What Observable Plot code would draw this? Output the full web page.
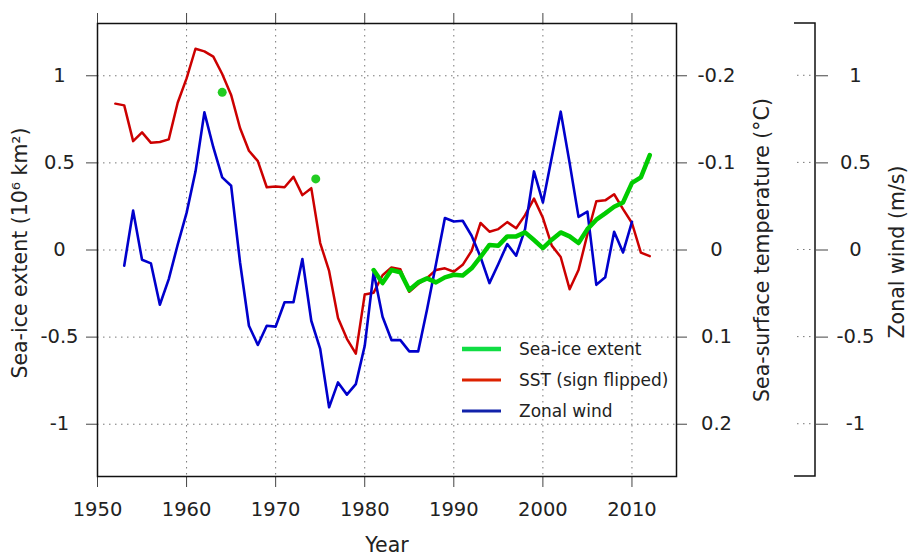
<!DOCTYPE html>
<html><head><meta charset="utf-8">
<script src="https://cdn.jsdelivr.net/npm/d3@7"></script>
<script src="https://cdn.jsdelivr.net/npm/@observablehq/plot@0.6"></script>
<style>
body{margin:0;background:#fff;font-family:"DejaVu Sans",sans-serif;}
#wrap{position:relative;width:911px;height:556px;}
.legend{position:absolute;left:462px;top:333.5px;font-size:17px;color:#222;font-family:"DejaVu Sans",sans-serif;}
.row{display:flex;align-items:center;height:31px;}
.row svg{margin-right:18px;}
</style></head><body><div id="wrap"></div>
<script>
// ---- data ----
const sstYears = [1952,1953,1954,1955,1956,1957,1958,1959,1960,1961,1962,1963,1964,1965,1966,1967,1968,1969,1970,1971,1972,1973,1974,1975,1976,1977,1978,1979,1980,1981,1982,1983,1984,1985,1986,1987,1988,1989,1990,1991,1992,1993,1994,1995,1996,1997,1998,1999,2000,2001,2002,2003,2004,2005,2006,2007,2008,2009,2010,2011,2012];
// SST anomaly in °C (as read on the right axis; plotted sign-flipped)
const sstValues = [-0.168,-0.166,-0.125,-0.135,-0.123,-0.124,-0.127,-0.169,-0.197,-0.231,-0.228,-0.222,-0.202,-0.178,-0.140,-0.114,-0.102,-0.072,-0.073,-0.072,-0.084,-0.063,-0.071,-0.008,0.024,0.078,0.102,0.119,0.051,0.049,0.029,0.020,0.022,0.048,0.039,0.032,0.023,0.021,0.025,0.017,0.001,-0.031,-0.021,-0.024,-0.032,-0.025,-0.040,-0.059,-0.037,-0.005,0.008,0.045,0.023,-0.018,-0.056,-0.057,-0.064,-0.047,-0.031,0.003,0.007];

const windYears = [1953,1954,1955,1956,1957,1958,1959,1960,1961,1962,1963,1964,1965,1966,1967,1968,1969,1970,1971,1972,1973,1974,1975,1976,1977,1978,1979,1980,1981,1982,1983,1984,1985,1986,1987,1988,1989,1990,1991,1992,1993,1994,1995,1996,1997,1998,1999,2000,2001,2002,2003,2004,2005,2006,2007,2008,2009,2010];
const windValues = [-0.09,0.226,-0.056,-0.077,-0.314,-0.167,0.03,0.213,0.45,0.79,0.59,0.417,0.369,-0.07,-0.435,-0.545,-0.435,-0.44,-0.30,-0.30,-0.052,-0.406,-0.568,-0.903,-0.76,-0.83,-0.77,-0.55,-0.128,-0.383,-0.517,-0.517,-0.582,-0.582,-0.34,-0.08,0.184,0.164,0.168,0.082,-0.04,-0.19,-0.08,0.034,-0.033,0.12,0.451,0.273,0.532,0.794,0.50,0.19,0.22,-0.2,-0.157,0.105,-0.014,0.162];

const iceYears = [1981,1982,1983,1984,1985,1986,1987,1988,1989,1990,1991,1992,1993,1994,1995,1996,1997,1998,1999,2000,2001,2002,2003,2004,2005,2006,2007,2008,2009,2010,2011,2012];
const iceValues = [-0.115,-0.19,-0.115,-0.128,-0.23,-0.186,-0.163,-0.186,-0.157,-0.142,-0.147,-0.105,-0.04,0.029,0.025,0.078,0.078,0.101,0.057,0.011,0.059,0.101,0.078,0.04,0.12,0.174,0.21,0.248,0.273,0.385,0.417,0.545];

const dotYears = [1964, 1974.5];
const dotValues = [0.905, 0.408];

const xTicks = [1950,1960,1970,1980,1990,2000,2010];
const yTicks = [-1,-0.5,0,0.5,1];

const seriesNames = ["Sea-ice extent","SST (sign flipped)","Zonal wind"];
const seriesColors = ["#00cc00","#cc0000","#0000cc"];
const legendColors = ["#11dd44","#dd2200","#1122aa"];
const legendWidths = [4.5,3,3];

// ---- tables ----
const sstData = sstYears.map((yr,i)=>({year:yr, v:-sstValues[i]*5}));
const windData = windYears.map((yr,i)=>({year:yr, v:windValues[i]}));
const iceData = iceYears.map((yr,i)=>({year:yr, v:iceValues[i]}));
const dotData = dotYears.map((yr,i)=>({year:yr, v:dotValues[i]}));

const fmt = v => String(Math.round(v*100)/100);
const grid = {stroke:"#777", strokeOpacity:1, strokeWidth:1, strokeDasharray:"1.5,4.5"};
const TICK = "#444";

const plot = Plot.plot({
  width: 911, height: 556,
  marginLeft: 97, marginRight: 235, marginTop: 23, marginBottom: 80,
  style: {fontFamily:"DejaVu Sans, sans-serif", fontSize:"19.5px", color:"#222", background:"white", overflow:"visible"},
  x: {domain:[1950,2015]},
  y: {domain:[-1.3,1.3]},
  marks: [
    Plot.gridX(xTicks, grid),
    Plot.gridY(yTicks, grid),
    Plot.axisX({anchor:"bottom", ticks:xTicks, tickSize:11, tickPadding:15, tickFormat:d=>String(d), stroke:TICK, label:null}),
    Plot.axisX({anchor:"top", ticks:xTicks, tickSize:11, tickFormat:()=>"", stroke:TICK, label:null}),
    Plot.axisY({anchor:"left", ticks:yTicks, tickSize:11, tickPadding:27, textAnchor:"middle", tickFormat:d=>String(d), stroke:TICK, label:null}),
    Plot.axisY({anchor:"right", ticks:yTicks, tickSize:10, tickPadding:30, textAnchor:"middle", tickFormat:d=>fmt(-d/5), stroke:TICK, label:null}),
    Plot.axisY({anchor:"right", ticks:yTicks, dx:139, tickSize:12, tickPadding:28, textAnchor:"middle", tickFormat:d=>String(d), stroke:TICK, label:null}),
    Plot.frame({stroke:"#111", strokeWidth:1.5}),
    Plot.line(sstData, {x:"year", y:"v", stroke:seriesColors[1], strokeWidth:2.5}),
    Plot.line(windData, {x:"year", y:"v", stroke:seriesColors[2], strokeWidth:2.6}),
    Plot.line(iceData, {x:"year", y:"v", stroke:seriesColors[0], strokeWidth:4.5}),
    Plot.dot(dotData, {x:"year", y:"v", r:4.5, fill:"#22cc22", stroke:null}),
    Plot.text(["Sea-ice extent (10\u2076 km\u00b2)"], {text:d=>d, frameAnchor:"left", dx:-77, dy:3, rotate:-90, fontSize:20.5, textAnchor:"middle", lineAnchor:"middle", fill:"#222"}),
    Plot.text(["Sea-surface temperature (\u00b0C)"], {text:d=>d, frameAnchor:"right", dx:86, rotate:-90, fontSize:20.5, textAnchor:"middle", lineAnchor:"middle", fill:"#222"}),
    Plot.text(["Zonal wind (m/s)"], {text:d=>d, frameAnchor:"right", dx:221, dy:2, rotate:-90, fontSize:20.5, textAnchor:"middle", lineAnchor:"middle", fill:"#222"}),
    Plot.text(["Year"], {text:d=>d, frameAnchor:"bottom", dy:69, fontSize:20.5, textAnchor:"middle", lineAnchor:"middle", fill:"#222"})
  ]
});

// zonal wind axis bracket (separate axis outside the frame)
const ys = plot.scale("y");
const xs = plot.scale("x");
const ax = xs.range[1] + 139;
const svg = d3.select(plot);
svg.append("path")
  .attr("d", `M${ax-21},${ys.apply(1.3)}H${ax}V${ys.apply(-1.3)}H${ax-21}`)
  .attr("fill","none").attr("stroke","#111").attr("stroke-width",1.5);
yTicks.forEach(t => {
  svg.append("line").attr("x1", ax-18).attr("x2", ax-2)
    .attr("y1", ys.apply(t)).attr("y2", ys.apply(t))
    .attr("stroke","#777").attr("stroke-dasharray","1.5,4.5");
});

const wrap = document.getElementById("wrap");
wrap.appendChild(plot);

// legend inside plot
const leg = document.createElement("div");
leg.className = "legend";
[0,1,2].forEach(i => {
  const row = document.createElement("div");
  row.className = "row";
  row.innerHTML = `<svg width="39" height="8"><line x1="0" x2="39" y1="4" y2="4" stroke="${legendColors[i]}" stroke-width="${legendWidths[i]}"/></svg><span>${seriesNames[i]}</span>`;
  leg.appendChild(row);
});
wrap.appendChild(leg);
</script>
</body></html>
